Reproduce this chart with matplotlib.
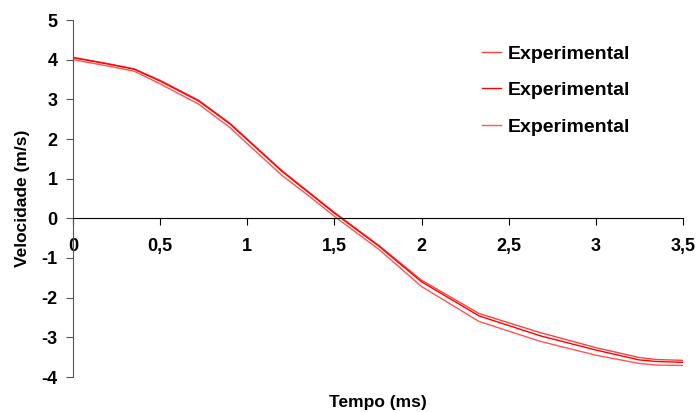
import numpy as np
import matplotlib.pyplot as plt
from matplotlib.ticker import FuncFormatter

plt.rcParams['font.family'] = ['Liberation Sans', 'DejaVu Sans']
plt.rcParams['font.weight'] = 'bold'
plt.rcParams['axes.unicode_minus'] = False

# tempo (ms)
t = [0, 0.1, 0.2, 0.35, 0.5, 0.72, 0.9, 1.0, 1.2, 1.36, 1.5, 1.76, 2.0,
     2.33, 2.68, 3.0, 3.25, 3.35, 3.5]

# velocidade (m/s), three experimental runs
vel_a = [4.06, 3.98, 3.9, 3.77, 3.48, 2.98, 2.4, 2.0, 1.2, 0.64, 0.15,
         -0.7, -1.56, -2.4, -2.88, -3.26, -3.51, -3.56, -3.58]
vel_b = [4.05, 3.97, 3.89, 3.76, 3.46, 2.96, 2.38, 1.98, 1.18, 0.62, 0.13,
         -0.72, -1.6, -2.46, -2.96, -3.32, -3.57, -3.61, -3.63]
vel_c = [4.0, 3.92, 3.84, 3.71, 3.39, 2.88, 2.29, 1.88, 1.08, 0.54, 0.05,
         -0.8, -1.72, -2.6, -3.1, -3.45, -3.66, -3.7, -3.71]

labels = ['Experimental', 'Experimental', 'Experimental']
colors = ['#ff4040', '#ff0000', '#ff5555']

fig = plt.figure(figsize=(6.98, 4.12), dpi=100)
ax = fig.add_axes([73 / 698, 1 - 377 / 412, 610 / 698, 357 / 412])

for v, lab, c in zip([vel_a, vel_b, vel_c], labels, colors):
    ax.plot(t, v, color=c, lw=1.0, label=lab)

ax.set_xlim(0, 3.5)
ax.set_ylim(-4, 5)
ax.set_xticks(np.arange(0, 3.51, 0.5))
ax.set_yticks(range(-4, 6))
fmt = FuncFormatter(lambda x, p: ('%g' % x).replace('.', ','))
ax.xaxis.set_major_formatter(fmt)

ax.spines['top'].set_visible(False)
ax.spines['right'].set_visible(False)
ax.spines['bottom'].set_position(('data', 0))
ax.spines['left'].set_color('#555555')
ax.tick_params(axis='x', direction='out', length=5, pad=9, labelsize=13)
ax.tick_params(axis='y', direction='out', length=5, pad=6, labelsize=13,
               color='#555555')

ax.set_ylabel('Velocidade (m/s)', fontsize=12.5, fontweight='bold', labelpad=8)
fig.text(378 / 698, 1 - 403 / 412, 'Tempo (ms)', ha='center', va='center',
         fontsize=12.5, fontweight='bold')

ax.legend(loc='upper left', bbox_to_anchor=(482 / 698, 1 - 45 / 412),
          bbox_transform=fig.transFigure, frameon=False, fontsize=14,
          handlelength=1.0, handletextpad=0.35, labelspacing=0.97,
          borderpad=0, borderaxespad=0)

fig.savefig('out.png', dpi=100)
